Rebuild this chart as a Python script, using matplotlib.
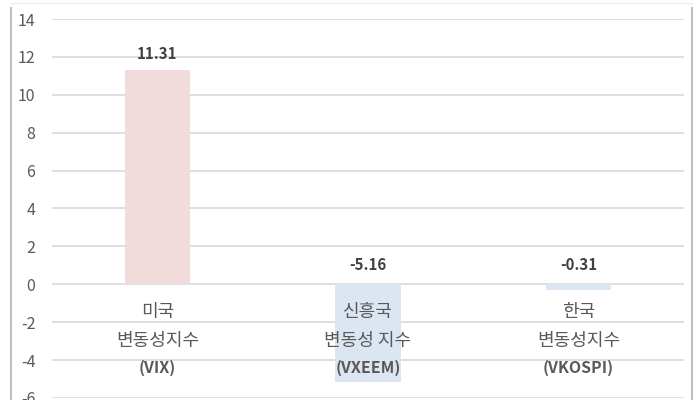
import matplotlib
matplotlib.use("Agg")
import matplotlib.pyplot as plt
from matplotlib.lines import Line2D
import numpy as np

plt.rcParams['font.family'] = ['Noto Sans CJK KR', 'DejaVu Sans']

# data
names = ['미국', '신흥국', '한국']
subnames = ['변동성지수', '변동성 지수', '변동성지수']
codes = ['(VIX)', '(VXEEM)', '(VKOSPI)']
values = [11.31, -5.16, -0.31]
bar_colors = ['#F2DCDB', '#DCE6F2', '#DCE6F2']
yticks = [-6, -4, -2, 0, 2, 4, 6, 8, 10, 12, 14]

fig = plt.figure(figsize=(6.97, 4.0), dpi=100)
ax = fig.add_axes([52 / 697, 2 / 400, 632 / 697, 379 / 400])

x = np.arange(len(values))
ax.bar(x, values, width=0.31, color=bar_colors, zorder=2)

ax.set_xlim(-0.5, len(values) - 0.5)
ax.set_ylim(-6, 14)
ax.set_yticks(yticks)
ax.set_yticklabels([str(t) for t in yticks], fontsize=11.5, color='#595959')
ax.tick_params(axis='y', length=0, pad=12)
ax.set_xticks([])
ax.grid(axis='y', color='#D9D9D9', linewidth=1.2, zorder=0)
ax.set_axisbelow(True)
for s in ax.spines.values():
    s.set_visible(False)

# value labels
for i, v in enumerate(values):
    ypos = v + 0.85 if v > 0 else 1.0
    ax.text(i, ypos, f'{v:.2f}', ha='center', va='center', fontsize=10.8,
            fontweight='bold', color='#404040', zorder=3)

# category labels
for i in range(len(values)):
    ax.text(i, -1.48, names[i], ha='center', va='center', fontsize=13,
            color='#595959', zorder=3)
    ax.text(i, -3.0, subnames[i], ha='center', va='center', fontsize=13,
            color='#595959', zorder=3)
    ax.text(i, -4.43, codes[i], ha='center', va='center', fontsize=11.5,
            fontweight='bold', color='#595959', zorder=3)

# chart frame edges
fig.add_artist(Line2D([11 / 697, 11 / 697], [0, 392 / 400], color='#BFBFBF', linewidth=1.5))
fig.add_artist(Line2D([692 / 697, 692 / 697], [0, 392 / 400], color='#BFBFBF', linewidth=1.5))
fig.add_artist(Line2D([11 / 697, 692 / 697], [397 / 400, 397 / 400], color='#F0F0F0', linewidth=1.0))

fig.savefig('out.png', dpi=100)
